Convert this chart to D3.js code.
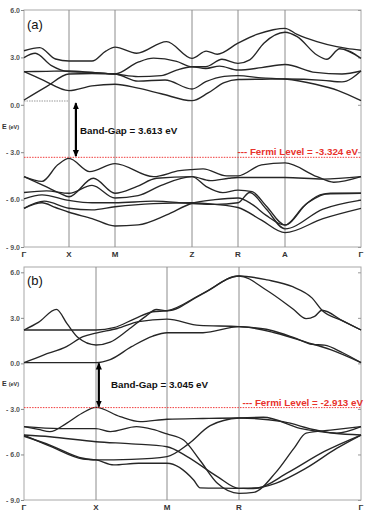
<!DOCTYPE html>
<html>
<head>
<meta charset="utf-8">
<script src="https://cdn.jsdelivr.net/npm/d3@7"></script>
<style>
  body { margin: 0; background: #fff; }
  text { font-family: "Liberation Sans", Arial, sans-serif; }
</style>
</head>
<body>
<div id="chart"></div>
<script>
const width = 371;
const height = 515;
const margins = { left: 24, right: 10 };
const plotWidth = width - margins.left - margins.right;

// high symmetry points and cumulative path length along k
const kLabelsA = ['Γ', 'X', 'M', 'Z', 'R', 'A', 'Γ'];
const kDistA = [0, 0.45, 0.91, 1.68, 2.14, 2.61, 3.37];
const kLabelsB = ['Γ', 'X', 'M', 'R', 'Γ'];
const kDistB = [0, 0.72, 1.43, 2.15, 3.37];

const energyTicks = [6, 3, 0, -3, -6, -9];

const fermiA = -3.324;
const gapA = 3.613;
const fermiB = -2.913;
const gapB = 3.045;

// bands: [path index, energy eV]; path index 0 = first point, 1 = second ...
// (a) conduction
const aC1 = [[0,3.42],[0.35,3.62],[0.7,2.9],[1,2.77],[1.5,2.77],[1.8,3.4],[2,3.65],[2.28,3.26],[2.67,4.0],[3,2.94],[3.31,3.4],[3.55,3.2],[4,3.9],[4.4,4.45],[4.75,4.75],[5,4.84],[5.16,4.45],[5.42,4.0],[5.68,3.68],[5.81,3.57],[6,3.45]];
const aC2 = [[0,2.99],[0.25,3.26],[0.6,2.5],[1,2.1],[1.5,2.05],[2,1.95],[2.3,2.7],[2.5,2.95],[2.8,2.75],[3,2.41],[3.3,2.41],[3.65,2.88],[4,2.62],[4.25,2.84],[4.55,3.9],[5,4.59],[5.16,4.31],[5.42,3.15],[5.55,2.88],[5.72,3.55],[6,2.94]];
const aC3 = [[0,2.1],[0.5,2.12],[1,2.14],[1.5,2.05],[2,1.95],[2.3,1.78],[2.6,1.85],[2.8,2.2],[3,2.41],[3.3,2.3],[3.6,2.45],[4,2.2],[4.5,2.35],[5,2.55],[5.4,2.05],[5.75,1.95],[6,2.14]];
const aC4 = [[0,2.1],[0.4,1.6],[1,0.9],[1.5,1.2],[2,1.3],[2.3,1.05],[2.6,0.7],[3,0.26],[3.35,0.75],[3.7,1.4],[4,1.6],[4.5,1.62],[5,1.63],[5.5,1.55],[5.75,1.45],[6,2.14]];
const aC5 = [[0,0.3],[0.5,1.15],[1,1.95],[1.5,1.98],[2,1.95],[2.3,1.5],[2.65,1.57],[3,1.0],[3.3,1.46],[3.7,1.8],[4,1.85],[4.5,1.7],[5,1.63],[5.4,1.3],[5.7,0.9],[6,0.26]];
// (a) valence
const aV1 = [[0,-4.55],[0.4,-4.85],[0.75,-3.8],[1,-3.39],[1.45,-4.23],[2,-3.72],[2.5,-4.55],[2.84,-4.17],[3,-4.1],[3.24,-4.06],[3.75,-4.5],[4,-4.5],[4.5,-3.8],[5,-3.68],[5.42,-4.55],[5.64,-4.9],[6,-4.55]];
const aV2 = [[0,-4.55],[0.5,-5.2],[0.8,-5.6],[1,-5.82],[1.53,-4.65],[2,-5.6],[2.28,-5.18],[2.54,-4.65],[3,-4.55],[3.31,-5.18],[3.67,-5.56],[4,-5.4],[4.3,-5.5],[4.6,-6.4],[5,-7.6],[5.3,-6.2],[5.6,-5.6],[6,-5.6]];
const aV3 = [[0,-5.55],[0.5,-5.45],[1,-5.6],[1.5,-5.1],[2,-5.9],[2.3,-5.75],[2.6,-5.1],[3,-4.55],[3.4,-4.8],[3.8,-4.65],[4,-4.6],[4.5,-4.6],[5,-4.6],[5.5,-4.7],[6,-4.55]];
const aV4 = [[0,-5.95],[0.4,-5.7],[1,-6.05],[1.5,-6.2],[2,-6.2],[2.5,-6.1],[3,-6.25],[3.5,-6.3],[4,-6.2],[4.25,-5.55],[4.6,-6.6],[5,-7.85],[5.5,-6.6],[6,-6.03]];
const aV5 = [[0,-6.55],[0.45,-6.1],[1,-6.55],[1.5,-6.65],[2,-6.45],[2.5,-6.25],[3,-6.2],[3.5,-6.3],[4,-6.5],[4.5,-7.3],[5,-8.09],[5.5,-7.2],[6,-6.55]];
const aV6 = [[0,-6.55],[0.4,-6.2],[0.7,-6.5],[1,-6.8],[1.5,-7.2],[2,-7.67],[2.3,-7.6],[2.67,-6.97],[3,-6.23],[3.5,-6.0],[4,-5.9],[4.3,-6.3],[4.6,-7.0],[5,-7.62],[5.25,-6.4],[5.5,-5.65],[6,-5.6]];
// (b) conduction
const bC1 = [[0,2.2],[0.2,2.7],[0.45,3.56],[0.6,2.6],[0.75,1.7],[1,1.21],[1.2,1.4],[1.45,2.2],[1.7,3.1],[1.85,3.55],[2,3.47],[2.5,4.6],[3,5.76],[3.23,5.5],[3.44,5.05],[3.6,4.3],[3.68,3.5],[3.85,2.8],[4,2.2]];
const bC2 = [[0,2.2],[0.5,2.2],[1,2.2],[1.25,2.35],[1.55,2.95],[1.8,3.4],[2,3.47],[2.5,4.62],[3,5.76],[3.23,4.8],[3.44,3.6],[3.55,2.95],[3.62,3.1],[3.68,3.5],[3.85,2.8],[4,2.2]];
const bC3 = [[0,0.05],[0.27,0.55],[0.59,1.1],[0.82,1.76],[1,2.0],[1.3,2.3],[1.6,2.75],[2,2.92],[2.45,2.5],[3,2.42],[3.25,2.2],[3.45,1.7],[3.6,1.25],[3.7,1.2],[3.85,0.7],[4,0.05]];
const bC4 = [[0,0.05],[0.5,0.05],[1,0.05],[1.2,0.25],[1.5,1.1],[1.8,1.8],[2,2.02],[2.5,2.02],[3,2.42],[3.3,2.0],[3.55,1.4],[3.75,0.9],[4,0.05]];
// (b) valence
const bV1 = [[0,-4.17],[0.2,-4.35],[0.36,-4.5],[0.59,-3.95],[0.8,-3.3],[1,-2.9],[1.34,-3.51],[1.62,-3.84],[2,-3.68],[2.5,-3.63],[3,-3.6],[3.36,-3.84],[3.63,-4.39],[3.8,-4.6],[4,-4.17]];
const bV2 = [[0,-4.17],[0.5,-4.3],[1,-4.3],[1.2,-4.5],[1.57,-4.17],[1.8,-4.35],[2,-4.65],[2.23,-5.05],[2.46,-6.4],[2.7,-7.9],[3,-8.56],[3.12,-8.5],[3.3,-7.2],[3.45,-5.6],[3.55,-4.6],[3.75,-4.4],[4,-4.17]];
const bV3 = [[0,-4.72],[0.36,-4.83],[1,-5.16],[1.5,-5.3],[2,-5.49],[2.28,-6.14],[2.7,-7.46],[3,-8.23],[3.15,-8.2],[3.4,-7.2],[3.7,-5.8],[4,-4.72]];
const bV4 = [[0,-4.8],[0.36,-5.38],[0.82,-6.25],[1,-6.36],[1.5,-6.32],[2,-6.14],[2.3,-5.3],[2.6,-4.1],[3,-3.6],[3.2,-3.55],[3.5,-4.28],[3.78,-4.6],[4,-4.72]];
const bV5 = [[0,-4.72],[0.36,-5.45],[0.82,-6.3],[1,-6.36],[1.25,-6.69],[1.6,-6.58],[2,-6.58],[2.37,-7.68],[2.46,-8.2],[3,-8.23],[3.1,-8.25],[3.3,-7.9],[3.55,-6.9],[3.8,-5.6],[4,-4.72]];

const panels = [
    {
        name: '(a)', top: 10, bottom: 247, yMax: 6,
        kLabels: kLabelsA, kDist: kDistA,
        bands: [aC1, aC2, aC3, aC4, aC5, aV1, aV2, aV3, aV4, aV5, aV6],
        fermi: fermiA, gap: gapA,
        arrowK: 1.15, arrowTop: 0.1, arrowBottom: -3.25,
        gapTextK: 1.24, gapTextE: -1.85, eLabelE: -1.55,
        fermiTextE: -3.2, fermiTextEnd: 358,
        guide: { from: 0, to: 1, e: 0.24 }
    },
    {
        name: '(b)', top: 267, bottom: 500, yMax: 6.35,
        kLabels: kLabelsB, kDist: kDistB,
        bands: [bC1, bC2, bC3, bC4, bV1, bV2, bV3, bV4, bV5],
        fermi: fermiB, gap: gapB,
        arrowK: 1.04, arrowTop: 0.0, arrowBottom: -2.85,
        gapTextK: 1.21, gapTextE: -1.64, eLabelE: -1.5,
        fermiTextE: -2.79, fermiTextEnd: 363
    }
];

const svg = d3.select('#chart')
    .append('svg')
    .attr('width', width)
    .attr('height', height);

// arrow head used by the band-gap arrows
svg.append('defs')
    .append('marker')
    .attr('id', 'head')
    .attr('viewBox', '0 0 8 8')
    .attr('refX', 7)
    .attr('refY', 4)
    .attr('markerUnits', 'userSpaceOnUse')
    .attr('markerWidth', 7)
    .attr('markerHeight', 7)
    .attr('orient', 'auto-start-reverse')
    .append('path')
    .attr('d', 'M0,0.5 L8,4 L0,7.5 Z')
    .attr('fill', '#000');

const energyFormat = (d) => {
    const s = d3.format('.1f')(Math.abs(d));
    return d < 0 ? '- ' + s : s;
};

panels.forEach(drawPanel);

function drawPanel(p) {
    const h = p.bottom - p.top;
    const g = svg.append('g')
        .attr('transform', `translate(${margins.left},${p.top})`);

    // path index -> path length -> pixel
    const kIndex = d3.scaleLinear().domain(d3.range(p.kDist.length)).range(p.kDist);
    const x = d3.scaleLinear().domain([0, d3.max(p.kDist)]).range([0, plotWidth]);
    const y = d3.scaleLinear().domain([-9, p.yMax]).range([h, 0]);

    // frame
    g.append('rect')
        .attr('width', plotWidth)
        .attr('height', h)
        .attr('fill', 'none')
        .attr('stroke', '#a8a8a8')
        .attr('stroke-width', 1);

    // high symmetry lines
    g.append('g')
        .selectAll('line')
        .data(p.kDist.slice(1, -1))
        .enter()
        .append('line')
        .attr('x1', d => x(d))
        .attr('x2', d => x(d))
        .attr('y1', 0)
        .attr('y2', h)
        .attr('stroke', '#8c8c8c')
        .attr('stroke-width', 1);

    // y axis with small outside ticks
    const yAxis = d3.axisLeft(y).tickValues(energyTicks).tickSize(3).tickPadding(1).tickFormat(energyFormat);
    const ax = g.append('g').call(yAxis);
    ax.select('.domain').remove();
    ax.selectAll('line').attr('stroke', '#888');
    ax.selectAll('text')
        .attr('font-size', 7)
        .attr('font-weight', 'bold')
        .attr('fill', '#555');

    // small inside ticks on the right edge
    const rAxis = d3.axisLeft(y).tickValues(energyTicks).tickSize(3).tickFormat('');
    const rax = g.append('g').attr('transform', `translate(${plotWidth},0)`).call(rAxis);
    rax.select('.domain').remove();
    rax.selectAll('line').attr('stroke', '#999');

    // axis title
    const et = g.append('text')
        .attr('x', 2 - margins.left)
        .attr('y', y(p.eLabelE))
        .attr('font-weight', 'bold')
        .attr('fill', '#333');
    et.append('tspan').attr('font-size', 7).text('E ');
    et.append('tspan').attr('font-size', 5.5).text('(eV)');

    // k labels
    g.append('g')
        .selectAll('text')
        .data(p.kLabels)
        .enter()
        .append('text')
        .attr('x', (d, i) => x(p.kDist[i]))
        .attr('y', h + 10)
        .attr('text-anchor', 'middle')
        .attr('font-size', 8)
        .attr('font-weight', 'bold')
        .attr('fill', '#333')
        .text(d => d);

    // dotted guide
    if (p.guide) {
        g.append('line')
            .attr('x1', x(kIndex(p.guide.from)))
            .attr('x2', x(kIndex(p.guide.to)))
            .attr('y1', y(p.guide.e))
            .attr('y2', y(p.guide.e))
            .attr('stroke', '#999')
            .attr('stroke-dasharray', '1.5,1');
    }

    // bands
    const line = d3.line()
        .x(d => x(kIndex(d[0])))
        .y(d => y(d[1]))
        .curve(d3.curveMonotoneX);

    g.append('g')
        .selectAll('path')
        .data(p.bands)
        .enter()
        .append('path')
        .attr('d', line)
        .attr('fill', 'none')
        .attr('stroke', '#262626')
        .attr('stroke-width', 1.35);

    // fermi level
    g.append('line')
        .attr('x1', 0)
        .attr('x2', plotWidth)
        .attr('y1', y(p.fermi))
        .attr('y2', y(p.fermi))
        .attr('stroke', '#f03c3c')
        .attr('stroke-width', 1)
        .attr('stroke-dasharray', '1.5,1.2');

    g.append('text')
        .attr('x', p.fermiTextEnd - margins.left)
        .attr('y', y(p.fermiTextE))
        .attr('text-anchor', 'end')
        .attr('font-size', 9.8)
        .attr('font-weight', 'bold')
        .attr('fill', '#e8322c')
        .text(`--- Fermi Level = ${p.fermi.toFixed(3)} eV`);

    // band gap arrow
    g.append('line')
        .attr('x1', x(kIndex(p.arrowK)))
        .attr('x2', x(kIndex(p.arrowK)))
        .attr('y1', y(p.arrowTop))
        .attr('y2', y(p.arrowBottom))
        .attr('stroke', '#000')
        .attr('stroke-width', 2.2)
        .attr('marker-start', 'url(#head)')
        .attr('marker-end', 'url(#head)');

    g.append('text')
        .attr('x', x(kIndex(p.gapTextK)))
        .attr('y', y(p.gapTextE))
        .attr('font-size', 9.8)
        .attr('font-weight', 'bold')
        .attr('fill', '#111')
        .text(`Band-Gap = ${p.gap.toFixed(3)} eV`);

    // panel tag
    g.append('text')
        .attr('x', 3)
        .attr('y', p.name === '(a)' ? 19 : 18)
        .attr('font-size', 13)
        .attr('fill', '#111')
        .text(p.name);
}
</script>
</body>
</html>
